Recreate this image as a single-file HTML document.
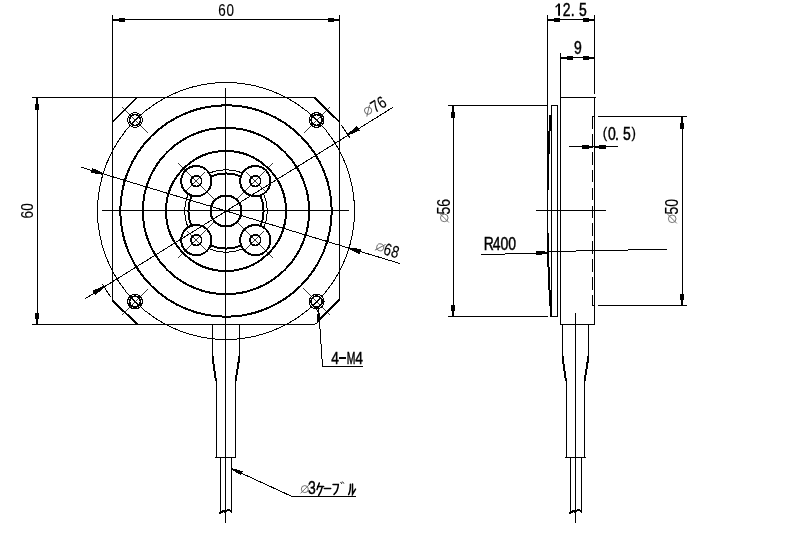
<!DOCTYPE html>
<html><head><meta charset="utf-8"><style>
html,body{margin:0;padding:0;background:#fff;}
svg{display:block;will-change:transform;}
text{font-family:"Liberation Sans",sans-serif;fill:#000;stroke:none;}
</style></head><body>
<svg width="799" height="536" viewBox="0 0 799 536">
<defs><mask id="cbmask" maskUnits="userSpaceOnUse" x="0" y="0" width="799" height="536">
<rect x="0" y="0" width="799" height="536" fill="#fff"/>
<circle cx="196.3" cy="181.1" r="15.1" fill="#000"/><circle cx="196.3" cy="240.1" r="15.1" fill="#000"/><circle cx="255.3" cy="181.1" r="15.1" fill="#000"/><circle cx="255.3" cy="240.1" r="15.1" fill="#000"/>
</mask></defs>
<rect width="799" height="536" fill="#fff"/>
<g fill="none" stroke="#000" stroke-linecap="butt" shape-rendering="crispEdges">
<line x1="225.50" y1="88.00" x2="225.50" y2="523.00" stroke-width="1"/>
<line x1="102.00" y1="210.50" x2="349.00" y2="210.50" stroke-width="1"/>
<line x1="112.50" y1="15.00" x2="112.50" y2="300.50" stroke-width="1"/>
<line x1="339.50" y1="15.00" x2="339.50" y2="299.50" stroke-width="1"/>
<line x1="112.50" y1="19.50" x2="339.50" y2="19.50" stroke-width="1"/>
<polygon points="112.50,21.00 118.50,21.00 118.50,22.00 124.50,22.00 124.50,18.00 118.50,18.00 118.50,19.00 112.50,19.00" fill="#000" stroke="none"/>
<polygon points="339.50,19.00 333.50,19.00 333.50,18.00 327.50,18.00 327.50,22.00 333.50,22.00 333.50,21.00 339.50,21.00" fill="#000" stroke="none"/>
<line x1="32.00" y1="97.50" x2="315.00" y2="97.50" stroke-width="1"/>
<line x1="32.00" y1="324.50" x2="314.00" y2="324.50" stroke-width="1"/>
<line x1="37.50" y1="97.50" x2="37.50" y2="324.50" stroke-width="1"/>
<polygon points="36.00,97.50 36.00,103.50 35.00,103.50 35.00,109.50 39.00,109.50 39.00,103.50 38.00,103.50 38.00,97.50" fill="#000" stroke="none"/>
<polygon points="38.00,324.50 38.00,318.50 39.00,318.50 39.00,312.50 35.00,312.50 35.00,318.50 36.00,318.50 36.00,324.50" fill="#000" stroke="none"/>
<line x1="112.50" y1="122.00" x2="137.00" y2="97.50" stroke-width="2"/>
<line x1="339.50" y1="122.00" x2="314.50" y2="97.50" stroke-width="2"/>
<line x1="112.50" y1="300.50" x2="137.50" y2="324.50" stroke-width="2"/>
<polyline points="314.00,324.50 317.00,323.00 319.00,320.00" stroke-width="1"/>
<line x1="318.50" y1="320.50" x2="339.50" y2="299.50" stroke-width="2"/>
<circle cx="226.00" cy="211.00" r="128.50" stroke-width="1" />
<circle cx="226.00" cy="211.00" r="105.70" stroke-width="2" />
<circle cx="226.00" cy="211.00" r="83.20" stroke-width="2" />
<circle cx="226.00" cy="211.00" r="60.00" stroke-width="2" />
<circle cx="226.00" cy="211.00" r="15.50" stroke-width="2" />
<g mask="url(#cbmask)">
<circle cx="226.00" cy="211.00" r="41.30" stroke-width="1" />
<circle cx="226.00" cy="211.00" r="37.60" stroke-width="2" />
</g>
<circle cx="196.30" cy="181.10" r="15.10" stroke-width="2" />
<circle cx="196.30" cy="181.10" r="5.40" stroke-width="1.7" />
<line x1="214.84" y1="199.64" x2="177.93" y2="162.73" stroke-width="0.8"/>
<line x1="205.85" y1="171.55" x2="186.75" y2="190.65" stroke-width="0.8"/>
<circle cx="255.30" cy="181.10" r="15.10" stroke-width="2" />
<circle cx="255.30" cy="181.10" r="5.40" stroke-width="1.7" />
<line x1="236.76" y1="199.64" x2="273.67" y2="162.73" stroke-width="0.8"/>
<line x1="264.85" y1="190.65" x2="245.75" y2="171.55" stroke-width="0.8"/>
<circle cx="196.30" cy="240.10" r="15.10" stroke-width="2" />
<circle cx="196.30" cy="240.10" r="5.40" stroke-width="1.7" />
<line x1="214.84" y1="221.56" x2="177.93" y2="258.47" stroke-width="0.8"/>
<line x1="186.75" y1="230.55" x2="205.85" y2="249.65" stroke-width="0.8"/>
<circle cx="255.30" cy="240.10" r="15.10" stroke-width="2" />
<circle cx="255.30" cy="240.10" r="5.40" stroke-width="1.7" />
<line x1="236.76" y1="221.56" x2="273.67" y2="258.47" stroke-width="0.8"/>
<line x1="245.75" y1="249.65" x2="264.85" y2="230.55" stroke-width="0.8"/>
<circle cx="135.00" cy="120.00" r="7.40" stroke-width="1.1" />
<circle cx="135.00" cy="120.00" r="5.50" stroke-width="1.7" />
<line x1="148.44" y1="133.44" x2="121.56" y2="106.56" stroke-width="0.8"/>
<line x1="138.18" y1="116.82" x2="131.82" y2="123.18" stroke-width="0.8"/>
<circle cx="316.60" cy="120.00" r="7.40" stroke-width="1.1" />
<circle cx="316.60" cy="120.00" r="5.50" stroke-width="1.7" />
<line x1="303.16" y1="133.44" x2="330.04" y2="106.56" stroke-width="0.8"/>
<line x1="319.78" y1="123.18" x2="313.42" y2="116.82" stroke-width="0.8"/>
<circle cx="135.00" cy="301.60" r="7.40" stroke-width="1.1" />
<circle cx="135.00" cy="301.60" r="5.50" stroke-width="1.7" />
<line x1="148.44" y1="288.16" x2="121.56" y2="315.04" stroke-width="0.8"/>
<line x1="131.82" y1="298.42" x2="138.18" y2="304.78" stroke-width="0.8"/>
<circle cx="316.60" cy="301.60" r="7.40" stroke-width="1.1" />
<circle cx="316.60" cy="301.60" r="5.50" stroke-width="1.7" />
<line x1="303.16" y1="288.16" x2="330.04" y2="315.04" stroke-width="0.8"/>
<line x1="313.42" y1="304.78" x2="319.78" y2="298.42" stroke-width="0.8"/>
<line x1="85.00" y1="298.80" x2="392.70" y2="107.50" stroke-width="1"/>
<polygon points="103.53,286.03 92.41,290.85 95.12,295.28 104.47,287.57" fill="#000" stroke="none"/>
<polygon points="348.47,135.37 359.59,130.55 356.88,126.12 347.53,133.83" fill="#000" stroke="none"/>
<line x1="101.89" y1="283.64" x2="110.49" y2="296.65" stroke-width="1"/>
<line x1="349.85" y1="137.93" x2="341.21" y2="124.95" stroke-width="1"/>
<line x1="81.25" y1="167.25" x2="400.00" y2="263.50" stroke-width="1"/>
<polygon points="103.26,173.04 92.26,167.94 90.76,172.92 102.74,174.76" fill="#000" stroke="none"/>
<polygon points="348.74,249.06 359.74,254.16 361.24,249.18 349.26,247.34" fill="#000" stroke="none"/>
<polyline points="318.20,309.00 319.50,321.00 322.50,366.50 363.00,366.50" stroke-width="1"/>
<polygon points="317.30,309.57 317.62,313.56 316.92,313.61 317.48,320.59 320.67,320.34 320.11,313.36 319.42,313.42 319.10,309.43" fill="#000" stroke="none"/>
<line x1="212.50" y1="324.50" x2="212.50" y2="356.50" stroke-width="1"/>
<line x1="212.50" y1="356.50" x2="216.00" y2="381.00" stroke-width="2"/>
<line x1="216.00" y1="381.00" x2="216.00" y2="457.50" stroke-width="1"/>
<line x1="239.50" y1="324.50" x2="239.50" y2="356.50" stroke-width="1"/>
<line x1="239.50" y1="356.50" x2="235.50" y2="381.00" stroke-width="2"/>
<line x1="235.50" y1="381.00" x2="235.50" y2="457.50" stroke-width="1"/>
<line x1="215.00" y1="457.50" x2="236.00" y2="457.50" stroke-width="1"/>
<line x1="220.50" y1="457.50" x2="220.50" y2="512.50" stroke-width="1"/>
<line x1="231.50" y1="457.50" x2="231.50" y2="512.50" stroke-width="1"/>
<path d="M219.0,513.5 Q222.5,510 225.5,512 Q229.0,508 232.0,512.5" stroke-width="2"/>
<polyline points="231.70,468.70 292.00,496.50 356.00,496.50" stroke-width="1"/>
<polygon points="231.41,469.34 240.77,475.30 242.61,471.31 231.99,468.06" fill="#000" stroke="none"/>
<line x1="547.50" y1="15.00" x2="547.50" y2="266.00" stroke-width="1"/>
<line x1="594.50" y1="15.00" x2="594.50" y2="94.00" stroke-width="1"/>
<line x1="547.50" y1="19.50" x2="594.50" y2="19.50" stroke-width="1"/>
<polygon points="547.50,21.00 553.50,21.00 553.50,22.00 559.50,22.00 559.50,18.00 553.50,18.00 553.50,19.00 547.50,19.00" fill="#000" stroke="none"/>
<polygon points="594.50,19.00 588.50,19.00 588.50,18.00 582.50,18.00 582.50,22.00 588.50,22.00 588.50,21.00 594.50,21.00" fill="#000" stroke="none"/>
<line x1="560.50" y1="53.00" x2="560.50" y2="97.50" stroke-width="1"/>
<line x1="560.50" y1="57.50" x2="594.50" y2="57.50" stroke-width="1"/>
<polygon points="560.50,59.00 566.50,59.00 566.50,60.00 572.50,60.00 572.50,56.00 566.50,56.00 566.50,57.00 560.50,57.00" fill="#000" stroke="none"/>
<polygon points="594.50,57.00 588.50,57.00 588.50,56.00 582.50,56.00 582.50,60.00 588.50,60.00 588.50,59.00 594.50,59.00" fill="#000" stroke="none"/>
<rect x="560.5" y="97.5" width="34" height="227" stroke-width="1"/>
<line x1="594.50" y1="97.50" x2="595.50" y2="97.50" stroke-width="1"/>
<line x1="592.00" y1="116.50" x2="594.50" y2="116.50" stroke-width="1"/>
<line x1="592.00" y1="305.50" x2="594.50" y2="305.50" stroke-width="1"/>
<path d="M592.5,116 V306" stroke-width="1" stroke-dasharray="12.7,5.2"/>
<path d="M551.5,105.5 H557.5 V316.5 H551.5 Z" stroke-width="1"/>
<rect x="549" y="115" width="2" height="16" fill="#000" stroke="none"/>
<rect x="548" y="131" width="2" height="23" fill="#000" stroke="none"/>
<rect x="547" y="153" width="2" height="37" fill="#000" stroke="none"/>
<rect x="547" y="233" width="2" height="34" fill="#000" stroke="none"/>
<rect x="548" y="267" width="2" height="23" fill="#000" stroke="none"/>
<rect x="549" y="290" width="2" height="16" fill="#000" stroke="none"/>
<rect x="550" y="306" width="2" height="11" fill="#000" stroke="none"/>
<line x1="448.00" y1="105.50" x2="547.50" y2="105.50" stroke-width="1"/>
<line x1="448.00" y1="316.50" x2="548.00" y2="316.50" stroke-width="1"/>
<line x1="453.50" y1="105.50" x2="453.50" y2="316.50" stroke-width="1"/>
<polygon points="452.00,105.50 452.00,111.50 451.00,111.50 451.00,117.50 455.00,117.50 455.00,111.50 454.00,111.50 454.00,105.50" fill="#000" stroke="none"/>
<polygon points="454.00,316.50 454.00,310.50 455.00,310.50 455.00,304.50 451.00,304.50 451.00,310.50 452.00,310.50 452.00,316.50" fill="#000" stroke="none"/>
<line x1="598.00" y1="116.50" x2="687.00" y2="116.50" stroke-width="1"/>
<line x1="598.00" y1="305.50" x2="687.00" y2="305.50" stroke-width="1"/>
<line x1="682.50" y1="116.50" x2="682.50" y2="305.50" stroke-width="1"/>
<polygon points="681.00,116.50 681.00,122.50 680.00,122.50 680.00,128.50 684.00,128.50 684.00,122.50 683.00,122.50 683.00,116.50" fill="#000" stroke="none"/>
<polygon points="683.00,305.50 683.00,299.50 684.00,299.50 684.00,293.50 680.00,293.50 680.00,299.50 681.00,299.50 681.00,305.50" fill="#000" stroke="none"/>
<line x1="569.00" y1="146.50" x2="618.00" y2="146.50" stroke-width="1"/>
<polygon points="592.50,146.00 588.50,146.00 588.50,145.00 581.50,145.00 581.50,149.00 588.50,149.00 588.50,148.00 592.50,148.00" fill="#000" stroke="none"/>
<polygon points="594.50,148.00 598.50,148.00 598.50,149.00 605.50,149.00 605.50,145.00 598.50,145.00 598.50,146.00 594.50,146.00" fill="#000" stroke="none"/>
<line x1="536.00" y1="210.50" x2="605.50" y2="210.50" stroke-width="1"/>
<line x1="575.50" y1="313.00" x2="575.50" y2="523.00" stroke-width="1"/>
<polyline points="481.00,254.50 494.70,254.30 547.50,252.80" stroke-width="1"/>
<polyline points="547.50,251.50 600.00,250.60 667.00,249.20" stroke-width="1"/>
<polygon points="546.96,251.60 535.94,251.13 536.06,255.13 547.04,254.00" fill="#000" stroke="none"/>
<line x1="562.50" y1="324.50" x2="562.50" y2="356.50" stroke-width="1"/>
<line x1="562.50" y1="356.50" x2="566.00" y2="381.00" stroke-width="2"/>
<line x1="566.00" y1="381.00" x2="566.00" y2="457.50" stroke-width="1"/>
<line x1="588.50" y1="324.50" x2="588.50" y2="356.50" stroke-width="1"/>
<line x1="588.50" y1="356.50" x2="584.50" y2="381.00" stroke-width="2"/>
<line x1="584.50" y1="381.00" x2="584.50" y2="457.50" stroke-width="1"/>
<line x1="565.00" y1="457.50" x2="586.00" y2="457.50" stroke-width="1"/>
<line x1="570.50" y1="457.50" x2="570.50" y2="512.50" stroke-width="1"/>
<line x1="581.50" y1="457.50" x2="581.50" y2="512.50" stroke-width="1"/>
<path d="M569.0,513.5 Q572.5,510 575.5,512 Q579.0,508 582.0,512.5" stroke-width="2"/>
<text transform="translate(222.00,15.60) scale(0.8,1)" font-size="16.8" text-anchor="middle" style="stroke:#000;stroke-width:0.15px">6</text>
<text transform="translate(230.20,15.60) scale(0.8,1)" font-size="16.8" text-anchor="middle" style="stroke:#000;stroke-width:0.15px">0</text>
<g transform="translate(32.90,218.40) rotate(-90)">
<text transform="translate(3.60,0.00) scale(0.8,1)" font-size="16.8" text-anchor="middle" style="stroke:#000;stroke-width:0.15px">6</text>
<text transform="translate(11.40,0.00) scale(0.8,1)" font-size="16.8" text-anchor="middle" style="stroke:#000;stroke-width:0.15px">0</text>
</g>
<g transform="translate(375.10,113.20) rotate(-31.7)">
<text transform="translate(3.60,0.00) scale(0.8,1)" font-size="16.8" text-anchor="middle" style="stroke:#000;stroke-width:0.15px">7</text>
<text transform="translate(11.20,0.00) scale(0.8,1)" font-size="16.8" text-anchor="middle" style="stroke:#000;stroke-width:0.15px">6</text>
<g stroke="#666" stroke-width="0.9" shape-rendering="auto"><circle cx="-4.55" cy="-5.79" r="3.5"/><line x1="-8.85" y1="-1.49" x2="-0.25" y2="-10.09"/></g>
</g>
<g transform="translate(382.60,254.00) rotate(16.8)">
<text transform="translate(3.60,0.00) scale(0.8,1)" font-size="16.8" text-anchor="middle" style="stroke:#000;stroke-width:0.15px">6</text>
<text transform="translate(11.40,0.00) scale(0.8,1)" font-size="16.8" text-anchor="middle" style="stroke:#000;stroke-width:0.15px">8</text>
<g stroke="#666" stroke-width="0.9" shape-rendering="auto"><circle cx="-4.20" cy="-5.70" r="3.5"/><line x1="-8.50" y1="-1.40" x2="0.10" y2="-10.00"/></g>
</g>
<text transform="translate(335.00,363.90) scale(0.82,1)" font-size="16.8" text-anchor="middle" style="stroke:#000;stroke-width:0.45px">4</text>
<line x1="339.10" y1="358.20" x2="346.40" y2="358.20" stroke-width="1.6"/>
<text transform="translate(351.20,363.90) scale(0.62,1)" font-size="16.8" text-anchor="middle" style="stroke:#000;stroke-width:0.5px">M</text>
<text transform="translate(359.05,363.90) scale(0.82,1)" font-size="16.8" text-anchor="middle" style="stroke:#000;stroke-width:0.45px">4</text>
<rect x="558.1" y="3.6" width="1.9" height="12.2" fill="#000" stroke="none" shape-rendering="auto"/>
<path d="M555.6,7.2 L559,3.9" stroke-width="1.3" shape-rendering="auto"/>
<text transform="translate(566.75,15.80) scale(0.8,1)" font-size="17.5" text-anchor="middle" style="stroke:#000;stroke-width:0.45px">2</text>
<text transform="translate(572.65,15.80) scale(0.8,1)" font-size="17.5" text-anchor="middle" style="stroke:#000;stroke-width:0.45px">.</text>
<text transform="translate(582.80,15.80) scale(0.8,1)" font-size="17.5" text-anchor="middle" style="stroke:#000;stroke-width:0.45px">5</text>
<text transform="translate(577.85,53.90) scale(0.8,1)" font-size="17.5" text-anchor="middle" style="stroke:#000;stroke-width:0.45px">9</text>
<text transform="translate(611.80,140.00) scale(0.8,1)" font-size="17.5" text-anchor="middle" style="stroke:#000;stroke-width:0.45px">0</text>
<text transform="translate(616.85,140.00) scale(0.8,1)" font-size="17.5" text-anchor="middle" style="stroke:#000;stroke-width:0.45px">.</text>
<text transform="translate(627.00,140.00) scale(0.8,1)" font-size="17.5" text-anchor="middle" style="stroke:#000;stroke-width:0.45px">5</text>
<text transform="translate(605.00,138.00) scale(0.85,1)" font-size="15.5" text-anchor="middle" style="stroke:#000;stroke-width:0.3px">(</text>
<text transform="translate(633.60,138.00) scale(0.85,1)" font-size="15.5" text-anchor="middle" style="stroke:#000;stroke-width:0.3px">)</text>
<text transform="translate(488.75,249.60) scale(0.8,1)" font-size="17.5" text-anchor="middle" style="stroke:#000;stroke-width:0.45px">R</text>
<text transform="translate(496.70,249.60) scale(0.8,1)" font-size="17.5" text-anchor="middle" style="stroke:#000;stroke-width:0.45px">4</text>
<text transform="translate(504.30,249.60) scale(0.8,1)" font-size="17.5" text-anchor="middle" style="stroke:#000;stroke-width:0.45px">0</text>
<text transform="translate(512.10,249.60) scale(0.8,1)" font-size="17.5" text-anchor="middle" style="stroke:#000;stroke-width:0.45px">0</text>
<g transform="translate(449.90,222.00) rotate(-90)">
<text transform="translate(11.30,0.00) scale(0.8,1)" font-size="17.5" text-anchor="middle" style="stroke:#000;stroke-width:0.15px">5</text>
<text transform="translate(19.05,0.00) scale(0.8,1)" font-size="17.5" text-anchor="middle" style="stroke:#000;stroke-width:0.15px">6</text>
<g stroke="#666" stroke-width="0.9" shape-rendering="auto"><circle cx="4.10" cy="-5.65" r="3.8"/><line x1="-0.50" y1="-1.05" x2="8.70" y2="-10.25"/></g>
</g>
<g transform="translate(677.90,222.50) rotate(-90)">
<text transform="translate(11.90,0.00) scale(0.8,1)" font-size="17.5" text-anchor="middle" style="stroke:#000;stroke-width:0.15px">5</text>
<text transform="translate(19.55,0.00) scale(0.8,1)" font-size="17.5" text-anchor="middle" style="stroke:#000;stroke-width:0.15px">0</text>
<g stroke="#666" stroke-width="0.9" shape-rendering="auto"><circle cx="3.70" cy="-5.70" r="3.8"/><line x1="-0.90" y1="-1.10" x2="8.30" y2="-10.30"/></g>
</g>
<g stroke="#666" stroke-width="0.9" shape-rendering="auto"><circle cx="304.80" cy="489.10" r="3.5"/><line x1="300.50" y1="493.40" x2="309.10" y2="484.80"/></g>
<text transform="translate(311.85,494.40) scale(0.8,1)" font-size="17.5" text-anchor="middle" style="stroke:#000;stroke-width:0.45px">3</text>
<g stroke-width="1.5" stroke-linecap="round" shape-rendering="auto"><path d="M319.3,483 L317,489.6"/><path d="M317.6,486.5 H323.6"/><path d="M322.2,487 Q321,492 318.6,495.5"/><path d="M324.3,488.5 H330.7"/><path d="M333,484.6 H338.3 Q338,491 334,494.4"/><path d="M340.8,482.3 L341.6,483.5 M342.6,481.9 L343.6,483.2" stroke-width="1"/><path d="M350.4,484.2 Q350.6,491 348.6,494.6"/><path d="M352.5,484 V494.2 L355.5,489.1"/></g>
</g>
</svg>
</body></html>
